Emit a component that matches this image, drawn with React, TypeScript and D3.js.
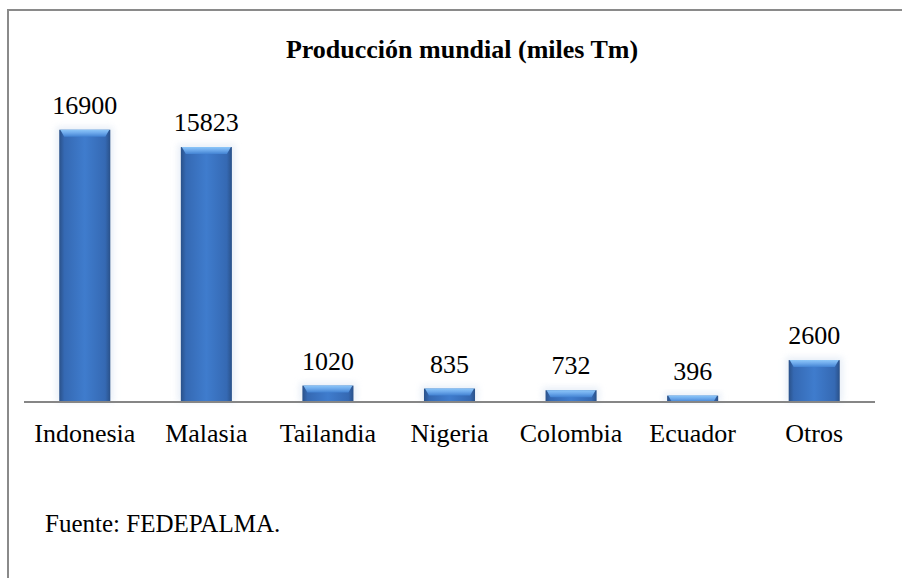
import React from "react";
import * as d3 from "d3";

const categories: string[] = ["Indonesia", "Malasia", "Tailandia", "Nigeria", "Colombia", "Ecuador", "Otros"];
const values: number[] = [16900, 15823, 1020, 835, 732, 396, 2600];
const title = "Producción mundial (miles Tm)";
const source = "Fuente: FEDEPALMA.";

const W = 902;
const H = 578;
const FONT = '"Liberation Serif", "DejaVu Serif", serif';

export default function App() {
  const x = d3
    .scaleBand<string>()
    .domain(categories)
    .range([24, 875])
    .paddingInner(0.58)
    .paddingOuter(0.29);
  const y = d3.scaleLinear().domain([0, 18000]).range([402, 112]);
  const bw = x.bandwidth();
  const txt = { fontFamily: FONT } as React.CSSProperties;

  return (
    <div style={{ position: "absolute", left: 0, top: 0 }}>
      <svg width={W} height={H} style={{ display: "block", background: "#fff" }}>
        <defs>
          <linearGradient id="barH" x1="0" x2="1" y1="0" y2="0">
            <stop offset="0%" stopColor="#2a5189" />
            <stop offset="10%" stopColor="#3569b3" />
            <stop offset="50%" stopColor="#3f7ccd" />
            <stop offset="90%" stopColor="#3569b3" />
            <stop offset="100%" stopColor="#2a5189" />
          </linearGradient>
          <linearGradient id="bevel" x1="0" x2="0" y1="0" y2="1">
            <stop offset="0%" stopColor="#8cc6f8" />
            <stop offset="45%" stopColor="#6eaaec" />
            <stop offset="100%" stopColor="#4282d2" />
          </linearGradient>
          <filter id="glow" x="-30%" y="-30%" width="160%" height="160%">
            <feGaussianBlur stdDeviation="3" />
          </filter>
        </defs>

        {/* frame */}
        <line x1={8} x2={8} y1={9} y2={H} stroke="#8a8a8a" strokeWidth={2} />
        <line x1={7} x2={W} y1={10} y2={10} stroke="#8a8a8a" strokeWidth={2} />

        <text
          x={462}
          y={58}
          textAnchor="middle"
          style={txt}
          fontWeight="bold"
          fontSize={26}
          fill="#000"
        >
          {title}
        </text>

        {categories.map((c, i) => {
          const v = values[i];
          const bx = x(c) as number;
          const top = y(v);
          const h = y(0) - top;
          const bev = Math.min(7, h);
          const inset = Math.min(4, bev * 0.6);
          const pts = [
            [bx + 1, top],
            [bx + bw - 1, top],
            [bx + bw - 1 - inset, top + bev],
            [bx + 1 + inset, top + bev],
          ]
            .map((p) => p.join(","))
            .join(" ");
          return (
            <g key={c}>
              <rect
                x={bx - 3}
                y={top - 3}
                width={bw + 6}
                height={h + 3}
                fill="#dfe8f4"
                opacity={0.7}
                filter="url(#glow)"
              />
              <rect x={bx} y={top} width={bw} height={h} fill="url(#barH)" />
              <polygon points={pts} fill="url(#bevel)" />
              <text
                x={bx + bw / 2}
                y={top - 16}
                textAnchor="middle"
                style={txt}
                fontSize={26}
                fill="#000"
              >
                {v}
              </text>
              <text
                x={bx + bw / 2}
                y={442}
                textAnchor="middle"
                style={txt}
                fontSize={26}
                fill="#000"
              >
                {c}
              </text>
            </g>
          );
        })}

        {/* axis */}
        <line x1={24} x2={875} y1={y(0)} y2={y(0)} stroke="#868686" strokeWidth={2} />

        <text x={45} y={532} style={txt} fontSize={25} fill="#000">
          {source}
        </text>
      </svg>
    </div>
  );
}
